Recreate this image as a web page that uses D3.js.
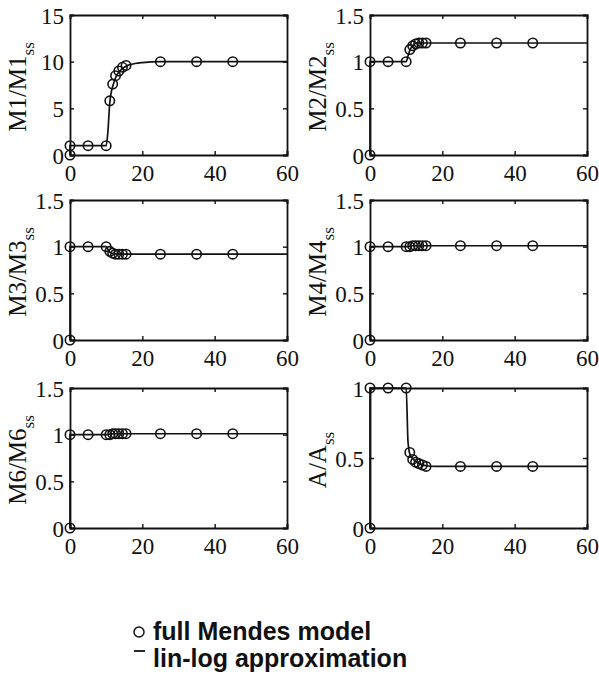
<!DOCTYPE html>
<html>
<head>
<meta charset="utf-8">
<script src="https://cdn.jsdelivr.net/npm/d3@7"></script>
<style>
  html, body { margin: 0; padding: 0; background: #fff; }
  svg { display: block; }
</style>
</head>
<body>
<svg id="chart" width="599" height="691"></svg>
<script>
// ---- data ----
const pointTimes = [0, 0, 5, 10, 11, 11.8, 12.6, 13.5, 14.5, 15.5, 25, 35, 45];
const lineTimes  = [0, 0, 10, 10.5, 11, 12, 13, 14, 15, 16, 18, 20, 25, 60];

const panelNames = ["M1", "M2", "M3", "M4", "M6", "A"];

const ptsM1 = [0, 1, 1, 1, 5.8, 7.6, 8.5, 9.0, 9.4, 9.6, 10, 10, 10];
const ptsM2 = [0, 1, 1, 1, 1.13, 1.17, 1.19, 1.2, 1.2, 1.2, 1.2, 1.2, 1.2];
const ptsM3 = [0, 1, 1, 1, 0.95, 0.93, 0.92, 0.92, 0.92, 0.92, 0.92, 0.92, 0.92];
const ptsM4 = [0, 1, 1, 1, 1.0, 1.01, 1.01, 1.01, 1.01, 1.01, 1.01, 1.01, 1.01];
const ptsM6 = [0, 1, 1, 1, 1.0, 1.01, 1.01, 1.01, 1.01, 1.01, 1.01, 1.01, 1.01];
const ptsA  = [0, 1, 1, 1, 0.54, 0.49, 0.47, 0.46, 0.45, 0.44, 0.44, 0.44, 0.44];

const lineM1 = [0, 1, 1, 2.6, 5.6, 7.6, 8.6, 9.1, 9.4, 9.6, 9.8, 9.9, 10, 10];
const lineM2 = [0, 1, 1, 1.06, 1.12, 1.18, 1.2, 1.2, 1.2, 1.2, 1.2, 1.2, 1.2, 1.2];
const lineM3 = [0, 1, 1, 0.97, 0.94, 0.925, 0.92, 0.92, 0.92, 0.92, 0.92, 0.92, 0.92, 0.92];
const lineM4 = [0, 1, 1, 1.0, 1.005, 1.01, 1.01, 1.01, 1.01, 1.01, 1.01, 1.01, 1.01, 1.01];
const lineM6 = [0, 1, 1, 1.0, 1.005, 1.01, 1.01, 1.01, 1.01, 1.01, 1.01, 1.01, 1.01, 1.01];
const lineA  = [0, 1, 1, 0.62, 0.53, 0.49, 0.47, 0.455, 0.447, 0.443, 0.44, 0.44, 0.44, 0.44];

const xTicks = [0, 20, 40, 60];
const yTicksM1 = [0, 5, 10, 15];
const yTicksUnit = [0, 0.5, 1, 1.5];
const yTicksA = [0, 0.5, 1];

const legendLabels = ["full Mendes model", "lin-log approximation"];

// ---- panels ----
const panels = [
  {name: "M1", pts: ptsM1, line: lineM1, yMax: 15,  yTicks: yTicksM1},
  {name: "M2", pts: ptsM2, line: lineM2, yMax: 1.5, yTicks: yTicksUnit},
  {name: "M3", pts: ptsM3, line: lineM3, yMax: 1.5, yTicks: yTicksUnit},
  {name: "M4", pts: ptsM4, line: lineM4, yMax: 1.5, yTicks: yTicksUnit},
  {name: "M6", pts: ptsM6, line: lineM6, yMax: 1.5, yTicks: yTicksUnit},
  {name: "A",  pts: ptsA,  line: lineA,  yMax: 1,   yTicks: yTicksA}
];

const colLeft = [70, 370];
const plotW = 217;
const rowTop = [15, 200, 388];
const plotH = 140;

const svg = d3.select("#chart");
const serif = "'Liberation Serif', 'Times New Roman', serif";

panels.forEach((p, i) => {
  const col = i % 2, row = Math.floor(i / 2);
  const x0 = colLeft[col], y0 = rowTop[row];
  const x = d3.scaleLinear().domain([0, 60]).range([x0, x0 + plotW]);
  const y = d3.scaleLinear().domain([0, p.yMax]).range([y0 + plotH, y0]);
  const g = svg.append("g");

  // axes with inward ticks
  const tk = 4;
  const axB = g.append("g").attr("transform", `translate(0,${y0 + plotH})`)
    .call(d3.axisBottom(x).tickValues(xTicks).tickSize(-tk).tickPadding(10).tickFormat(d => d));
  const axT = g.append("g").attr("transform", `translate(0,${y0})`)
    .call(d3.axisTop(x).tickValues(xTicks).tickSize(-tk).tickFormat(""));
  const axL = g.append("g").attr("transform", `translate(${x0},0)`)
    .call(d3.axisLeft(y).tickValues(p.yTicks).tickSize(-tk).tickPadding(6).tickFormat(d => d));
  const axR = g.append("g").attr("transform", `translate(${x0 + plotW},0)`)
    .call(d3.axisRight(y).tickValues(p.yTicks).tickSize(-tk).tickFormat(""));
  [axB, axT, axL, axR].forEach(a => {
    a.select(".domain").attr("stroke", "#111").attr("stroke-width", 1.8);
    a.selectAll(".tick line").attr("stroke", "#111").attr("stroke-width", 1.4);
    a.selectAll("text").attr("font-family", serif).attr("font-size", 23).attr("fill", "#111");
  });
  axL.selectAll(".tick text").attr("dy", "0.36em");

  // y label with subscript
  const lbl = g.append("text")
    .attr("transform", `translate(${x0 - 44},${y0 + plotH / 2 + 2}) rotate(-90)`)
    .attr("text-anchor", "middle")
    .attr("font-family", serif).attr("font-size", 25).attr("fill", "#111");
  lbl.append("tspan").text(`${p.name}/${p.name}`);
  lbl.append("tspan").attr("font-size", 17).attr("dy", "0.45em").text("ss");

  // lin-log line
  const lineData = lineTimes.map((t, k) => [t, p.line[k]]);
  g.append("path")
    .datum(lineData)
    .attr("fill", "none").attr("stroke", "#111").attr("stroke-width", 1.7)
    .attr("d", d3.line().x(d => x(d[0])).y(d => y(d[1])).curve(d3.curveMonotoneX));

  // full model circles
  g.selectAll("circle.pt")
    .data(pointTimes.map((t, k) => [t, p.pts[k]]))
    .join("circle")
    .attr("class", "pt")
    .attr("cx", d => x(d[0])).attr("cy", d => y(d[1]))
    .attr("r", 4.7)
    .attr("fill", "none").attr("stroke", "#111").attr("stroke-width", 1.6);
});

// ---- legend ----
const sans = "'Liberation Sans', Arial, Helvetica, sans-serif";
const lg = svg.append("g");
lg.append("circle").attr("cx", 139).attr("cy", 632).attr("r", 5)
  .attr("fill", "none").attr("stroke", "#111").attr("stroke-width", 1.5);
lg.append("line").attr("x1", 134).attr("x2", 145).attr("y1", 651).attr("y2", 651)
  .attr("stroke", "#111").attr("stroke-width", 1.8);
legendLabels.forEach((s, k) => {
  lg.append("text").attr("x", 153).attr("y", 640 + k * 27)
    .attr("font-family", sans).attr("font-weight", "bold").attr("font-size", 25)
    .attr("fill", "#111").text(s);
});
</script>
</body>
</html>
